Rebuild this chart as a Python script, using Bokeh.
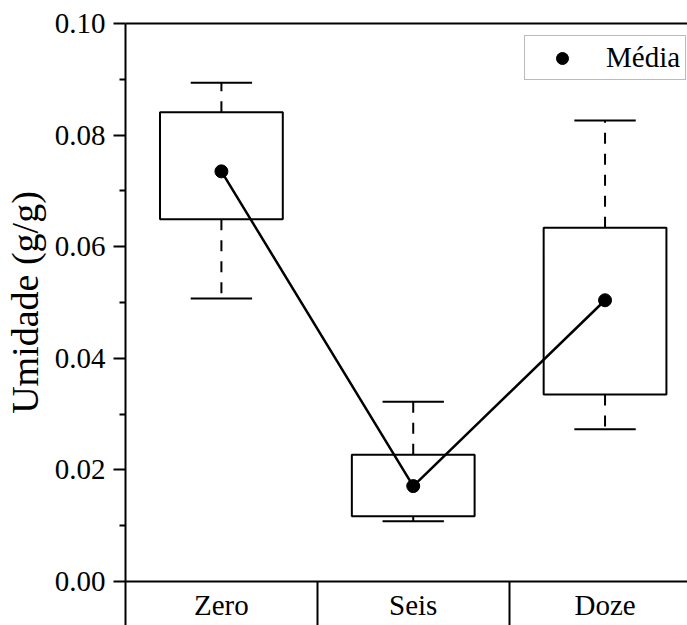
from bokeh.plotting import figure
from bokeh.models import (Range1d, LinearAxis, FixedTicker, PrintfTickFormatter,
                          ColumnDataSource, Legend, LegendItem)
from bokeh.embed import file_html
from bokeh.resources import INLINE

# Moisture content (g/g) per storage time
categories = ["Zero", "Seis", "Doze"]
whisker_high = [0.0894, 0.0322, 0.0826]
q3 = [0.0841, 0.0227, 0.0634]
q1 = [0.0649, 0.0117, 0.0335]
whisker_low = [0.0507, 0.0108, 0.0273]
means = [0.0735, 0.0171, 0.0504]
y_ticks = [0.0, 0.02, 0.04, 0.06, 0.08, 0.10]

FONT = "Liberation Serif"
centers = [i + 0.5 for i in range(len(categories))]
box_half = 0.32
cap_half = 0.16

src = ColumnDataSource(dict(
    x=centers,
    left=[c - box_half for c in centers],
    right=[c + box_half for c in centers],
    cap_l=[c - cap_half for c in centers],
    cap_r=[c + cap_half for c in centers],
    hi=whisker_high, q3=q3, q1=q1, lo=whisker_low, mean=means,
))

W, H = 687, 625
LEFT, TOP, BOTTOM = 123, 23, 44
cat_px = 192.5

p = figure(width=W, height=H, output_backend="svg", toolbar_location=None,
           x_range=Range1d(0, (W - LEFT) / cat_px), y_range=Range1d(0, 0.10),
           x_axis_type=None, y_axis_type=None,
           min_border_left=LEFT, min_border_right=0,
           min_border_top=TOP, min_border_bottom=BOTTOM)
p.outline_line_color = None
p.xgrid.visible = False
p.ygrid.visible = False
p.background_fill_color = "white"
p.border_fill_color = "white"

# y axis
yax = LinearAxis(ticker=FixedTicker(ticks=y_ticks,
                                    minor_ticks=[0.01, 0.03, 0.05, 0.07, 0.09]),
                 formatter=PrintfTickFormatter(format="%.2f"),
                 axis_label="Umidade (g/g)")
yax.axis_line_width = 2
yax.major_tick_line_width = 2
yax.minor_tick_line_width = 2
yax.major_tick_out = 12
yax.major_tick_in = 0
yax.minor_tick_out = 6
yax.minor_tick_in = 0
yax.major_label_text_font = FONT
yax.major_label_text_font_size = "29px"
yax.major_label_text_color = "black"
yax.major_label_standoff = 8
yax.axis_label_text_font = FONT
yax.axis_label_text_font_size = "38px"
yax.axis_label_text_font_style = "normal"
yax.axis_label_text_color = "black"
yax.axis_label_standoff = 6
p.add_layout(yax, "left")

# x axis: category labels at centres, separators as long minor ticks
SEP = 44
xax = LinearAxis(ticker=FixedTicker(ticks=centers,
                                    minor_ticks=[0, 1, 2, 3]))
xax.major_label_overrides = {c: name for c, name in zip(centers, categories)}
xax.axis_line_width = 2
xax.major_tick_out = 0
xax.major_tick_in = 0
xax.minor_tick_out = SEP
xax.minor_tick_in = 0
xax.minor_tick_line_width = 2
xax.major_label_text_font = FONT
xax.major_label_text_font_size = "29px"
xax.major_label_text_color = "black"
xax.major_label_standoff = 7 - SEP
p.add_layout(xax, "below")

# top frame line
top = LinearAxis(ticker=FixedTicker(ticks=[]))
top.axis_line_width = 2
top.major_tick_out = 0
top.major_tick_in = 0
top.minor_tick_out = 0
top.minor_tick_in = 0
top.major_label_text_font_size = "0px"
p.add_layout(top, "above")

# whiskers, dashed from the box edge out to the caps
p.segment(x0="x", y0="q3", x1="x", y1="hi", source=src, line_color="black",
          line_width=2, line_dash="11 10")
p.segment(x0="x", y0="q1", x1="x", y1="lo", source=src, line_color="black",
          line_width=2, line_dash="11 10")
p.segment(x0="cap_l", y0="hi", x1="cap_r", y1="hi", source=src,
          line_color="black", line_width=2)
p.segment(x0="cap_l", y0="lo", x1="cap_r", y1="lo", source=src,
          line_color="black", line_width=2)

# boxes
p.quad(left="left", right="right", bottom="q1", top="q3", source=src,
       fill_color=None, line_color="black", line_width=2)

# means
p.line(x="x", y="mean", source=src, line_color="black", line_width=2.5)
mean_r = p.scatter(x="x", y="mean", source=src, size=13, marker="circle",
                   fill_color="black", line_color="black")

legend = Legend(items=[LegendItem(label="Média", renderers=[mean_r])],
                location=(399, 501))
legend.label_text_font = FONT
legend.label_text_font_size = "29px"
legend.label_text_color = "black"
legend.glyph_width = 64
legend.glyph_height = 30
legend.label_height = 30
legend.label_standoff = 12
legend.padding = 5
legend.spacing = 0
legend.margin = 0
legend.border_line_color = "#777777"
legend.border_line_width = 1
legend.background_fill_alpha = 1
p.add_layout(legend)

open("out.html", "w").write(file_html(p, INLINE))
